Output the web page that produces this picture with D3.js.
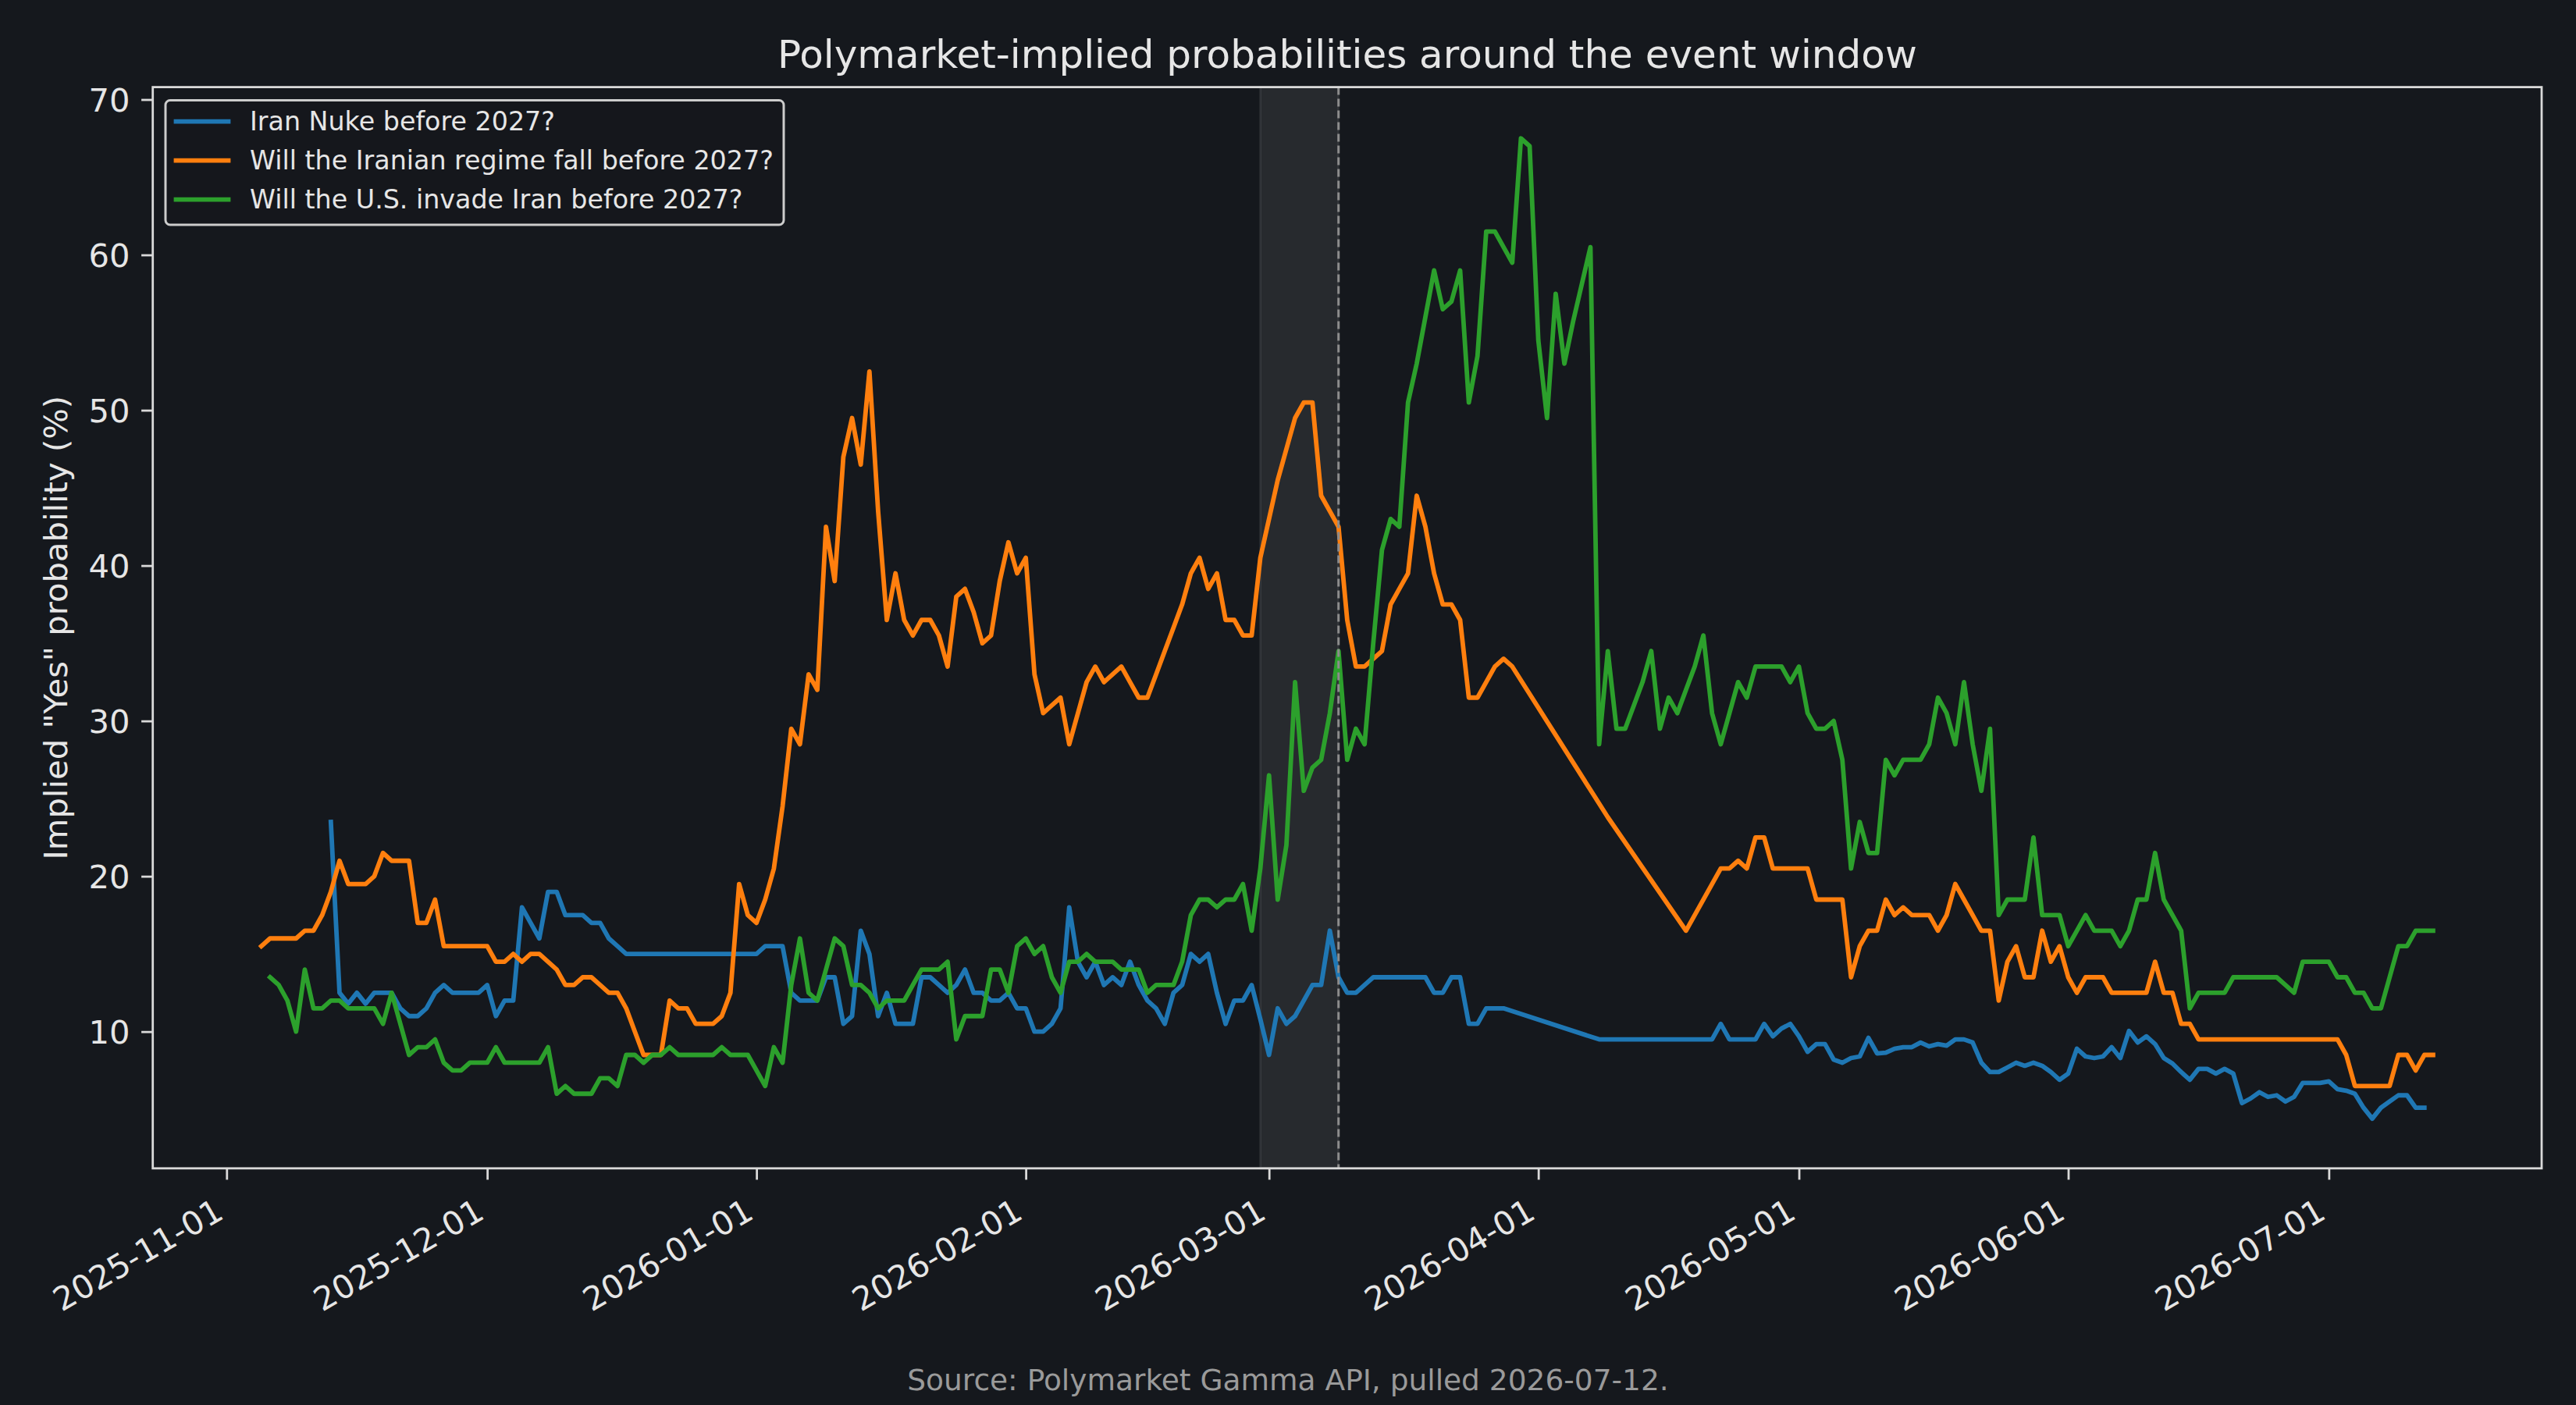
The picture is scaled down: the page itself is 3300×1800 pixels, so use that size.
<!doctype html>
<html>
<head>
<meta charset="utf-8">
<style>
    body { margin: 0; background: #15181d; }
    svg text { font-family: "DejaVu Sans", sans-serif; fill: #e6e6e6; }
</style>
<script src="https://d3js.org/d3.v7.min.js"></script>
</head>
<body>
<svg width="3300" height="1800"></svg>
<script>

    // daily values, null = no data that day (matplotlib just joins across the gap)
    var seriesNames = ["Iran Nuke before 2027?",
                       "Will the Iranian regime fall before 2027?",
                       "Will the U.S. invade Iran before 2027?"];
    var seriesColors = ["#1f77b4", "#ff7f0e", "#2ca02c"];

    var nukeStart = "2025-11-13";
    var nukeValues = [
        23.5, 12.5, 11.8, 12.5, 11.8, 12.5, 12.5, 12.5, 11.5, 11,
        11, 11.5, 12.5, 13, 12.5, 12.5, 12.5, 12.5, 13, 11,
        12, 12, 18, 17, 16, 19, 19, 17.5, 17.5, 17.5,
        17, 17, 16, 15.5, 15, 15, 15, 15, 15, 15,
        15, 15, 15, 15, 15, 15, 15, 15, 15, 15,
        15.5, 15.5, 15.5, 12.5, 12, 12, 12, 13.5, 13.5, 10.5,
        11, 16.5, 15, 11, 12.5, 10.5, 10.5, 10.5, 13.5, 13.5,
        13, 12.5, 13, 14, 12.5, 12.5, 12, 12, 12.5, 11.5,
        11.5, 10, 10, 10.5, 11.5, 18, 14.5, 13.5, 14.5, 13,
        13.5, 13, 14.5, 13, 12, 11.5, 10.5, 12.5, 13, 15,
        14.5, 15, 12.5, 10.5, 12, 12, 13, 10.8, 8.5, 11.5,
        10.5, 11, 12, 13, 13, 16.5, 13.5, 12.5, 12.5, 13,
        13.5, 13.5, 13.5, 13.5, 13.5, 13.5, 13.5, 12.5, 12.5, 13.5,
        13.5, 10.5, 10.5, 11.5, 11.5, 11.5, null, null, null, null,
        null, null, null, null, null, null, 9.5, 9.5, 9.5, 9.5,
        9.5, 9.5, 9.5, 9.5, 9.5, 9.5, 9.5, 9.5, 9.5, 9.5,
        10.5, 9.5, 9.5, 9.5, 9.5, 10.5, 9.7, 10.2, 10.5, 9.7,
        8.7, 9.2, 9.2, 8.2, 8.0, 8.3, 8.4, 9.6, 8.6, 8.65,
        8.9, 9.0, 9.0, 9.3, 9.05, 9.2, 9.1, 9.5, 9.5, 9.3,
        8.0, 7.4, 7.4, 7.7, 8.0, 7.8, 8.0, 7.8, 7.4, 6.9,
        7.3, 8.9, 8.4, 8.3, 8.4, 9.0, 8.3, 10.05, 9.3, 9.7,
        9.2, 8.3, 7.95, 7.4, 6.9, 7.6, 7.6, 7.3, 7.6, 7.3,
        5.4, 5.7, 6.1, 5.8, 5.9, 5.5, 5.8, 6.7, 6.7, 6.7,
        6.8, 6.3, 6.2, 6.0, 5.1, 4.4, 5.1, 5.5, 5.9, 5.9, 5.1, 5.1
    ];

    var regimeStart = "2025-11-05";
    var regimeValues = [
        15.5, 16, 16, 16, 16, 16.5, 16.5, 17.5, 19, 21,
        19.5, 19.5, 19.5, 20, 21.5, 21, 21, 21, 17, 17,
        18.5, 15.5, 15.5, 15.5, 15.5, 15.5, 15.5, 14.5, 14.5, 15,
        14.5, 15, 15, 14.5, 14, 13, 13, 13.5, 13.5, 13,
        12.5, 12.5, 11.5, 10, 8.5, 8.5, 8.5, 12, 11.5, 11.5,
        10.5, 10.5, 10.5, 11, 12.5, 19.5, 17.5, 17, 18.5, 20.5,
        24.5, 29.5, 28.5, 33, 32, 42.5, 39, 47, 49.5, 46.5,
        52.5, 43.5, 36.5, 39.5, 36.5, 35.5, 36.5, 36.5, 35.5, 33.5,
        38, 38.5, 37, 35, 35.5, 39, 41.5, 39.5, 40.5, 33,
        30.5, 31, 31.5, 28.5, 30.5, 32.5, 33.5, 32.5, 33, 33.5,
        32.5, 31.5, 31.5, 33, 34.5, 36, 37.5, 39.5, 40.5, 38.5,
        39.5, 36.5, 36.5, 35.5, 35.5, 40.5, 43, 45.5, 47.5, 49.5,
        50.5, 50.5, 44.5, 43.5, 42.5, 36.5, 33.5, 33.5, 34, 34.5,
        37.5, 38.5, 39.5, 44.5, 42.5, 39.5, 37.5, 37.5, 36.5, 31.5,
        31.5, 32.5, 33.5, 34, 33.5, null, null, null, null, null,
        null, null, null, null, null, 23.8, null, null, null, null,
        null, null, null, null, 16.5, null, null, null, 20.5, 20.5,
        21, 20.5, 22.5, 22.5, 20.5, 20.5, 20.5, 20.5, 20.5, 18.5,
        18.5, 18.5, 18.5, 13.5, 15.5, 16.5, 16.5, 18.5, 17.5, 18,
        17.5, 17.5, 17.5, 16.5, 17.5, 19.5, 18.5, 17.5, 16.5, 16.5,
        12, 14.5, 15.5, 13.5, 13.5, 16.5, 14.5, 15.5, 13.5, 12.5,
        13.5, 13.5, 13.5, 12.5, 12.5, 12.5, 12.5, 12.5, 14.5, 12.5,
        12.5, 10.5, 10.5, 9.5, 9.5, 9.5, 9.5, 9.5, 9.5, 9.5,
        9.5, 9.5, 9.5, 9.5, 9.5, 9.5, 9.5, 9.5, 9.5, 9.5,
        8.5, 6.5, 6.5, 6.5, 6.5, 6.5, 8.5, 8.5, 7.5, 8.5, 8.5
    ];

    var invadeStart = "2025-11-06";
    var invadeValues = [
        13.5, 13, 12, 10, 14, 11.5, 11.5, 12, 12, 11.5,
        11.5, 11.5, 11.5, 10.5, 12.5, 10.5, 8.5, 9, 9, 9.5,
        8, 7.5, 7.5, 8, 8, 8, 9, 8, 8, 8,
        8, 8, 9, 6, 6.5, 6, 6, 6, 7, 7,
        6.5, 8.5, 8.5, 8, 8.5, 8.5, 9, 8.5, 8.5, 8.5,
        8.5, 8.5, 9, 8.5, 8.5, 8.5, 7.5, 6.5, 9, 8,
        13, 16, 12.5, 12, 14, 16, 15.5, 13, 13, 12.5,
        11.5, 12, 12, 12, 13, 14, 14, 14, 14.5, 9.5,
        11, 11, 11, 14, 14, 12.5, 15.5, 16, 15, 15.5,
        13.5, 12.5, 14.5, 14.5, 15, 14.5, 14.5, 14.5, 14, 14,
        14, 12.5, 13, 13, 13, 14.5, 17.5, 18.5, 18.5, 18,
        18.5, 18.5, 19.5, 16.5, 20.5, 26.5, 18.5, 22, 32.5, 25.5,
        27, 27.5, 30.5, 34.5, 27.5, 29.5, 28.5, 35, 41, 43,
        42.5, 50.5, 53, 56, 59, 56.5, 57, 59, 50.5, 53.5,
        61.5, 61.5, 60.5, 59.5, 67.5, 67, 54.5, 49.5, 57.5, 53,
        55.7, 58.1, 60.5, 28.5, 34.5, 29.5, 29.5, 31, 32.5, 34.5,
        29.5, 31.5, 30.5, 32, 33.5, 35.5, 30.5, 28.5, 30.5, 32.5,
        31.5, 33.5, 33.5, 33.5, 33.5, 32.5, 33.5, 30.5, 29.5, 29.5,
        30, 27.5, 20.5, 23.5, 21.5, 21.5, 27.5, 26.5, 27.5, 27.5,
        27.5, 28.5, 31.5, 30.5, 28.5, 32.5, 28.5, 25.5, 29.5, 17.5,
        18.5, 18.5, 18.5, 22.5, 17.5, 17.5, 17.5, 15.5, 16.5, 17.5,
        16.5, 16.5, 16.5, 15.5, 16.5, 18.5, 18.5, 21.5, 18.5, 17.5,
        16.5, 11.5, 12.5, 12.5, 12.5, 12.5, 13.5, 13.5, 13.5, 13.5,
        13.5, 13.5, 13, 12.5, 14.5, 14.5, 14.5, 14.5, 13.5, 13.5,
        12.5, 12.5, 11.5, 11.5, 13.5, 15.5, 15.5, 16.5, 16.5, 16.5
    ];

    var eventWindow = ["2026-02-28", "2026-03-09"];
    var yTicks = [10, 20, 30, 40, 50, 60, 70];
    var yDomain = [1.2, 70.8];

    var parse = d3.utcParse("%Y-%m-%d");

    function toPoints(start, values) {
        var t0 = parse(start);
        return values.map(function(v, i) {
            return { date: d3.utcDay.offset(t0, i), value: v };
        }).filter(function(d) { return d.value !== null; });
    }

    var series = [toPoints(nukeStart, nukeValues),
                  toPoints(regimeStart, regimeValues),
                  toPoints(invadeStart, invadeValues)];

    var svg = d3.select("svg"),
        plotLeft = 195.7, plotRight = 3256, plotTop = 111.6, plotBottom = 1496.8;

    svg.append("rect").attr("width", 3300).attr("height", 1800).attr("fill", "#15181d");

    // matplotlib style 5% margins on the date range
    var allDates = series.flat().map(function(d) { return d.date; });
    var t0 = d3.min(allDates), t1 = d3.max(allDates), span = t1 - t0;
    var x = d3.scaleUtc()
        .domain([new Date(+t0 - 0.05 * span), new Date(+t1 + 0.05 * span)])
        .range([plotLeft, plotRight]);
    var y = d3.scaleLinear().domain(yDomain).range([plotBottom, plotTop]);

    // event window
    svg.append("rect")
       .attr("x", x(parse(eventWindow[0])))
       .attr("y", plotTop)
       .attr("width", x(parse(eventWindow[1])) - x(parse(eventWindow[0])))
       .attr("height", plotBottom - plotTop)
       .attr("fill", "#ffffff").attr("fill-opacity", 0.08)
       .attr("stroke", "#ffffff").attr("stroke-opacity", 0.08).attr("stroke-width", 3);

    var line = d3.line()
        .x(function(d) { return x(d.date); })
        .y(function(d) { return y(d.value); });

    svg.append("g").selectAll("path")
       .data(series)
       .enter().append("path")
       .attr("d", line)
       .attr("fill", "none")
       .attr("stroke", function(d, i) { return seriesColors[i]; })
       .attr("stroke-width", 5.8)
       .attr("stroke-linejoin", "round")
       .attr("stroke-linecap", "square");

    svg.append("line")
       .attr("x1", x(parse(eventWindow[1]))).attr("x2", x(parse(eventWindow[1])))
       .attr("y1", plotTop).attr("y2", plotBottom)
       .attr("stroke", "#8c8c8c").attr("stroke-width", 3)
       .attr("stroke-dasharray", "10,5");

    // axes
    var xAxis = svg.append("g")
        .attr("transform", "translate(0," + plotBottom + ")")
        .call(d3.axisBottom(x)
            .tickValues(d3.utcMonth.range(d3.utcMonth.ceil(x.domain()[0]), x.domain()[1]))
            .tickFormat(d3.utcFormat("%Y-%m-%d"))
            .tickSize(14.6));
    xAxis.selectAll("text")
         .attr("x", 0).attr("y", 0).attr("dy", null)
         .attr("text-anchor", "end")
         .attr("transform", "translate(-2,63) rotate(-30)")
         .attr("font-size", "41.7px");

    var yAxis = svg.append("g")
        .attr("transform", "translate(" + plotLeft + ",0)")
        .call(d3.axisLeft(y).tickValues(yTicks).tickFormat(d3.format("d"))
            .tickSize(14.6).tickPadding(14.6));
    yAxis.selectAll("text").attr("font-size", "41.7px").attr("dy", "0.36em");

    svg.selectAll(".domain").remove();
    svg.selectAll(".tick line").attr("stroke", "#d9d9d9").attr("stroke-width", 2.8);

    svg.append("rect")
       .attr("x", plotLeft).attr("y", plotTop)
       .attr("width", plotRight - plotLeft).attr("height", plotBottom - plotTop)
       .attr("fill", "none").attr("stroke", "#d9d9d9").attr("stroke-width", 2.8);

    // labels
    svg.append("text")
       .attr("x", (plotLeft + plotRight) / 2).attr("y", 87)
       .attr("text-anchor", "middle").attr("font-size", "50px")
       .text("Polymarket-implied probabilities around the event window");

    svg.append("text")
       .attr("transform", "translate(86," + (plotTop + plotBottom) / 2 + ") rotate(-90)")
       .attr("text-anchor", "middle").attr("font-size", "41.7px")
       .text('Implied "Yes" probability (%)');

    svg.append("text")
       .attr("x", 1650).attr("y", 1781)
       .attr("text-anchor", "middle").attr("font-size", "37.5px")
       .style("fill", "#9a9a9a")
       .text("Source: Polymarket Gamma API, pulled 2026-07-12.");

    // legend
    var legend = svg.append("g");
    legend.append("rect")
          .attr("x", 212).attr("y", 128.5).attr("width", 792).attr("height", 159.5)
          .attr("rx", 6)
          .attr("fill", "#15181d").attr("fill-opacity", 0.8)
          .attr("stroke", "#cccccc").attr("stroke-width", 3);

    var rows = legend.selectAll(".row")
        .data(seriesNames)
        .enter().append("g")
        .attr("class", "row")
        .attr("transform", function(d, i) { return "translate(0," + (155.7 + i * 50) + ")"; });
    rows.append("line")
        .attr("x1", 225.5).attr("x2", 292.5)
        .attr("stroke", function(d, i) { return seriesColors[i]; })
        .attr("stroke-width", 5.8).attr("stroke-linecap", "square");
    rows.append("text")
        .attr("x", 320).attr("y", 11.6)
        .attr("font-size", "33.3px")
        .text(function(d) { return d; });

</script>
</body>
</html>
